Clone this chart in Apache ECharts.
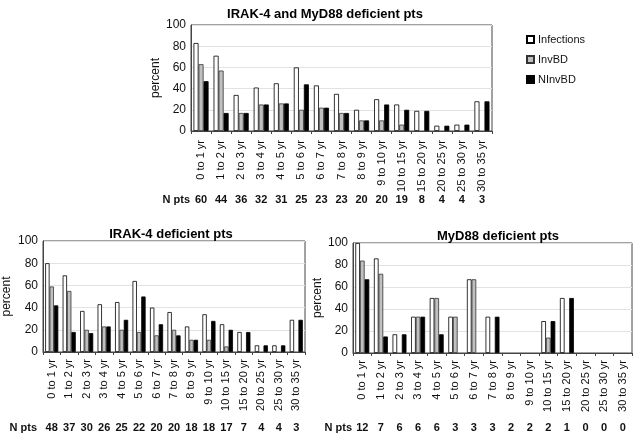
<!DOCTYPE html>
<html>
<head>
<meta charset="utf-8">
<script src="https://cdn.jsdelivr.net/npm/echarts@6/dist/echarts.min.js"></script>
<style>html,body{margin:0;padding:0;background:#fff}#c{width:640px;height:440px}</style>
</head>
<body>
<div id="c"></div>
<script>
var categories = ['0 to 1 yr','1 to 2 yr','2 to 3 yr','3 to 4 yr','4 to 5 yr','5 to 6 yr','6 to 7 yr','7 to 8 yr','8 to 9 yr','9 to 10 yr','10 to 15 yr','15 to 20 yr','20 to 25 yr','25 to 30 yr','30 to 35 yr'];
var seriesNames = ['Infections','InvBD','NInvBD'];
var titles = ['IRAK-4 and MyD88 deficient pts','IRAK-4 deficient pts','MyD88 deficient pts'];
var yTicks = [0,20,40,60,80,100];

// All patients
var allInfections = [83,71,34,41,45,60,43,35,20,30,25,19,5,6,28];
var allInvBD      = [63,57,17,25,26,20,22,17,10,10,6,0,0,0,0];
var allNInvBD     = [47,17,17,25,26,44,22,17,10,25,20,19,5,6,28];
var allNpts       = [60,44,36,32,31,25,23,23,20,20,19,8,4,4,3];

// IRAK-4
var irakInfections = [80,69,37,43,45,64,40,36,23,34,25,18,6,6,29];
var irakInvBD      = [59,55,20,23,20,18,15,20,11,11,5,0,0,0,0];
var irakNInvBD     = [42,18,17,23,29,50,25,15,11,28,20,18,6,6,29];
var irakNpts       = [48,37,30,26,25,22,20,20,18,18,17,7,4,4,3];

// MyD88
var mydInfections = [100,86,17,33,50,33,67,33,0,0,29,50,0,0,0];
var mydInvBD      = [84,72,0,33,50,33,67,0,0,0,14,0,0,0,0];
var mydNInvBD     = [67,15,17,33,17,0,0,33,0,0,29,50,0,0,0];
var mydNpts       = [12,7,6,6,6,3,3,3,2,2,2,1,0,0,0];

var panels = [
  {inf: allInfections, inv: allInvBD, ninv: allNInvBD, npts: allNpts},
  {inf: irakInfections, inv: irakInvBD, ninv: irakNInvBD, npts: irakNpts},
  {inf: mydInfections, inv: mydInvBD, ninv: mydNInvBD, npts: mydNpts}
];

var FONT = 'Liberation Sans, Arial, sans-serif';
var layout = [
  {left:191, top:25, width:301, height:106, nameGap:29, nOffset:69, nGap:1, xMargin:9, tx:320, ty:3},
  {left:43, top:241, width:262, height:111, nameGap:30, nOffset:76, nGap:6, xMargin:7, tx:166, ty:223},
  {left:353, top:243, width:279, height:110, nameGap:27, nOffset:75, nGap:1, xMargin:7, tx:493, ty:225}
];
var styles = [
  {color:'#ffffff', borderColor:'#000', borderWidth:0.8},
  {color:'#c0c0c0', borderColor:'#333', borderWidth:0.8},
  {color:'#000000', borderColor:'#000', borderWidth:0.8}
];

var option = {
  animation:false,
  backgroundColor:'#fff',
  textStyle:{fontFamily:FONT},
  title:[], grid:[], xAxis:[], yAxis:[], series:[],
  legend:{
    data:seriesNames, orient:'vertical', left:521, top:29,
    itemWidth:7, itemHeight:7, itemGap:9, icon:'rect',
    textStyle:{fontFamily:FONT, fontSize:11, color:'#111', padding:[0,0,0,-1]},
    selectedMode:false
  }
};

layout.forEach(function(L, i){
  var P = panels[i];
  option.title.push({text:titles[i], left:L.tx, top:L.ty, textAlign:'center',
    textStyle:{fontFamily:FONT, fontSize:13, fontWeight:'bold', color:'#000'}});
  option.grid.push({left:L.left, top:L.top, width:L.width, height:L.height,
    show:true, borderColor:'#444', borderWidth:1, backgroundColor:'transparent'});
  option.xAxis.push({type:'category', gridIndex:i, data:categories,
    axisLine:{lineStyle:{color:'#444', width:1}},
    axisTick:{show:true, length:3, lineStyle:{color:'#444'}},
    axisLabel:{rotate:90, fontSize:11, color:'#111', margin:L.xMargin, fontFamily:FONT, interval:0}});
  option.xAxis.push({type:'category', gridIndex:i, data:P.npts, position:'bottom', offset:L.nOffset,
    axisLine:{show:false}, axisTick:{show:false},
    axisLabel:{fontSize:11, fontWeight:'bold', color:'#111', margin:0, verticalAlign:'middle', interval:0, fontFamily:FONT},
    name:'N pts', nameLocation:'start', nameGap:L.nGap,
    nameTextStyle:{fontSize:11, fontWeight:'bold', color:'#111', fontFamily:FONT, verticalAlign:'middle', align:'right'}});
  option.yAxis.push({type:'value', gridIndex:i, min:yTicks[0], max:yTicks[yTicks.length-1], interval:20,
    name:'percent', nameLocation:'middle', nameGap:L.nameGap, nameRotate:90,
    nameTextStyle:{fontSize:12, color:'#111', fontFamily:FONT},
    axisLine:{show:true, lineStyle:{color:'#444'}}, axisTick:{show:false},
    axisLabel:{fontSize:12, color:'#111', margin:5, fontFamily:FONT},
    splitLine:{lineStyle:{color:'#e2e2e2', width:1}}});
  [P.inf, P.inv, P.ninv].forEach(function(d, k){
    option.series.push({type:'bar', name:seriesNames[k], xAxisIndex:i*2, yAxisIndex:i,
      data:d.map(function(v){ return v === 0 ? '-' : v; }),
      itemStyle:styles[k], barGap:'0%', barCategoryGap:'25%', emphasis:{disabled:true}});
  });
});

var chart = echarts.init(document.getElementById('c'), null, {renderer:'canvas'});
chart.setOption(option);
</script>
</body>
</html>
